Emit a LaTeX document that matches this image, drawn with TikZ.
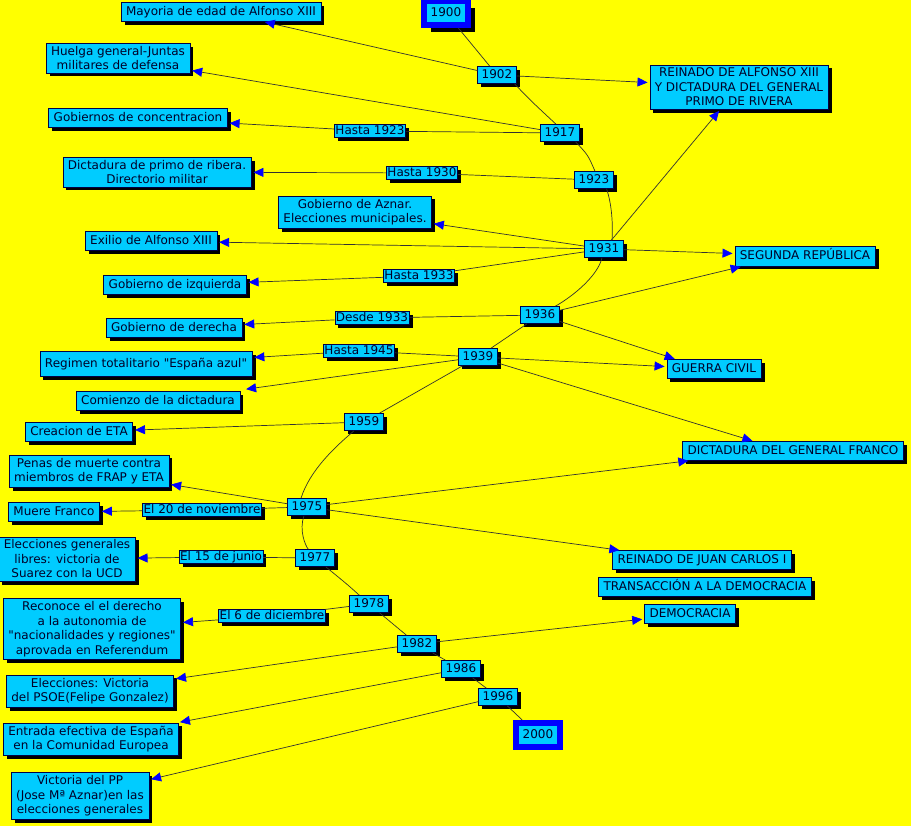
\documentclass[tikz,border=0pt]{standalone}
\usepackage{fontspec}
\setmainfont{DejaVu Sans}[Ligatures=TeXOff]
\usetikzlibrary{arrows.meta,shadows}
\definecolor{bgy}{RGB}{255,255,0}
\definecolor{cy}{RGB}{0,204,255}
\definecolor{tx}{RGB}{0,0,40}
\definecolor{bd}{RGB}{0,0,70}
\definecolor{ab}{RGB}{0,0,255}
\definecolor{ln}{RGB}{50,50,50}
\begin{document}
\begin{tikzpicture}[x=1pt,y=-1pt,
  base/.style={fill=cy, draw=bd, line width=0.6pt, text=tx,
    font=\fontsize{12}{14.5}\selectfont,
    drop shadow={shadow xshift=3.5pt, shadow yshift=-3.5pt, fill=black, opacity=1}},
  box/.style={base, align=center, inner xsep=5pt, inner ysep=3pt},
  sbox/.style={base, inner xsep=5pt, inner ysep=3pt, text height=9.5pt, text depth=3pt},
  yr/.style={base, inner xsep=4pt, inner ysep=3pt, text height=9pt, text depth=2pt},
  lbl/.style={base, inner xsep=1pt, inner ysep=0.5pt, text height=9pt, text depth=2.5pt},
  big/.style={fill=cy, draw=ab, line width=6pt, text=tx,
    font=\fontsize{12}{14.5}\selectfont, inner xsep=7pt, inner ysep=6.5pt,
    text height=9pt, text depth=2pt},
  link/.style={draw=ln, line width=0.7pt},
  arr/.style={link, -{Triangle[length=10pt,width=9pt,color=ab]}, shorten >=2pt}
]
\useasboundingbox (0,0) rectangle (911,826);
\fill[bgy] (0,0) rectangle (911,826);

% left column
\node[sbox] (mayoria) at (221,12) {Mayoria de edad de Alfonso XIII};
\node[box] (huelga) at (118,58) {Huelga general-Juntas\\militares de defensa};
\node[sbox] (gobconc) at (138,118) {Gobiernos de concentracion};
\node[lbl] (h1923) at (370,131) {Hasta 1923};
\node[box] (dictprimo) at (157,172) {Dictadura de primo de ribera.\\Directorio militar};
\node[lbl] (h1930) at (422,173) {Hasta 1930};
\node[box] (aznar) at (355,212) {Gobierno de Aznar.\\Elecciones municipales.};
\node[sbox] (exilio) at (151,241) {Exilio de Alfonso XIII};
\node[lbl] (h1933) at (419,276) {Hasta 1933};
\node[sbox] (izq) at (175,285) {Gobierno de izquierda};
\node[lbl] (d1933) at (372,318) {Desde 1933};
\node[sbox] (der) at (174,328) {Gobierno de derecha};
\node[lbl] (h1945) at (359,351) {Hasta 1945};
\node[sbox, minimum height=25pt] (regimen) at (146,364) {Regimen totalitario "España azul"};
\node[sbox] (comienzo) at (158,401) {Comienzo de la dictadura};
\node[sbox] (eta) at (79,432) {Creacion de ETA};
\node[box] (penas) at (89,471) {Penas de muerte contra\\miembros de FRAP y ETA};
\node[sbox] (muere) at (54,512) {Muere Franco};
\node[lbl] (n20) at (202,510) {El 20 de noviembre};
\node[box] (eleccgen) at (67,559) {Elecciones generales\\libres: victoria de\\Suarez con la UCD};
\node[lbl] (j15) at (221,557) {El 15 de junio};
\node[box] (reconoce) at (92,629) {Reconoce el el derecho\\a la autonomia de\\"nacionalidades y regiones"\\aprovada en Referendum};
\node[lbl] (d6) at (272,616) {El 6 de diciembre};
\node[box] (psoe) at (90,691) {Elecciones: Victoria\\del PSOE(Felipe Gonzalez)};
\node[box] (entrada) at (91,739) {Entrada efectiva de España\\en la Comunidad Europea};
\node[box] (pp) at (80,796) {Victoria del PP\\(Jose Mª Aznar)en las\\elecciones generales};

% years
\node[big, drop shadow={shadow xshift=7pt, shadow yshift=-7pt, fill=black, opacity=1}] (y1900) at (446,13) {1900};
\node[yr] (y1902) at (497,75) {1902};
\node[yr] (y1917) at (560,133) {1917};
\node[yr] (y1923) at (594,180) {1923};
\node[yr] (y1931) at (604,249) {1931};
\node[yr] (y1936) at (540,315) {1936};
\node[yr] (y1939) at (478,357) {1939};
\node[yr] (y1959) at (364,422) {1959};
\node[yr] (y1975) at (307,507) {1975};
\node[yr] (y1977) at (315,558) {1977};
\node[yr] (y1978) at (369,604) {1978};
\node[yr] (y1982) at (417,644) {1982};
\node[yr] (y1986) at (461,669) {1986};
\node[yr] (y1996) at (498,697) {1996};
\node[big] (y2000) at (538,735) {2000};

% right column
\node[box] (alfonso) at (739,87) {REINADO DE ALFONSO XIII\\Y DICTADURA DEL GENERAL\\PRIMO DE RIVERA};
\node[sbox, minimum height=20pt] (seg) at (805,256) {SEGUNDA REPÚBLICA};
\node[sbox] (gc) at (714,369) {GUERRA CIVIL};
\node[sbox] (dgf) at (793,451) {DICTADURA DEL GENERAL FRANCO};
\node[sbox] (rjc) at (702,560) {REINADO DE JUAN CARLOS I};
\node[sbox] (trans) at (705,587) {TRANSACCIÓN A LA DEMOCRACIA};
\node[sbox] (demo) at (690,614) {DEMOCRACIA};

% timeline
\draw[link] (y1900) -- (y1902);
\draw[link] ([xshift=-2pt]y1902.south east) .. controls (530,100) .. ([xshift=-4pt]y1917.north);
\draw[link] ([xshift=-4pt]y1917.south east) .. controls (588,155) .. ([xshift=1pt]y1923.north);
\draw[link] ([xshift=-7pt]y1923.south east) .. controls (612,205) and (613,225) .. ([xshift=8pt]y1931.north);
\draw[link] (y1931) .. controls (598,275) and (575,295) .. (y1936);
\draw[link] (y1936) -- (y1939);
\draw[link] (y1939) -- (y1959);
\draw[link] ([xshift=-10pt]y1959.south) .. controls (335,447) and (310,470) .. ([xshift=-6pt]y1975.north);
\draw[link] (y1975) .. controls (299,530) and (305,545) .. (y1977);
\draw[link] (y1977) .. controls (348,585) .. (y1978);
\draw[link] (y1978) -- (y1982);
\draw[link] (y1982) -- (y1986);
\draw[link] (y1986) -- (y1996);
\draw[link] (y1996) -- (y2000);

% arrows
\draw[arr] (y1902) -- (mayoria);
\draw[arr] (y1902) -- (alfonso);
\draw[arr] (y1917) -- (huelga);
\draw[link] (y1917) -- (h1923);
\draw[arr] (h1923) -- (gobconc);
\draw[link] (y1923) -- (h1930);
\draw[arr] (h1930) -- (dictprimo);
\draw[arr] (y1931) -- (alfonso);
\draw[arr] (y1931) -- (aznar);
\draw[arr] (y1931) -- (exilio);
\draw[link] (y1931) -- (h1933);
\draw[arr] (h1933) -- (izq);
\draw[arr] (y1931) -- (seg);
\draw[arr] (y1936) -- ([xshift=8pt]seg.south west);
\draw[arr] (y1936) -- ([xshift=10pt]gc.north west);
\draw[link] (y1936) -- (d1933);
\draw[arr] (d1933) -- (der);
\draw[link] (y1939) -- (h1945);
\draw[arr] (h1945) -- (regimen);
\draw[arr] (y1939) -- ([xshift=4pt,yshift=2pt]comienzo.north east);
\draw[arr] (y1939) -- (gc);
\draw[arr] (y1939) -- ([xshift=72pt]dgf.north west);
\draw[arr] (y1959) -- (eta);
\draw[arr] (y1975) -- ([xshift=8pt]dgf.south west);
\draw[arr] (y1975) -- ([xshift=9pt]rjc.north west);
\draw[arr] (y1975) -- (penas);
\draw[link] (y1975) -- (n20);
\draw[arr] (n20) -- (muere);
\draw[link] (y1977) -- (j15);
\draw[arr] (j15) -- (eleccgen);
\draw[link] (y1978) -- (d6);
\draw[arr] (d6) -- (reconoce);
\draw[arr] (y1982) -- (demo);
\draw[arr] (y1982) -- (psoe);
\draw[arr] (y1986) -- (entrada);
\draw[arr] (y1996) -- (pp);
\end{tikzpicture}
\end{document}
